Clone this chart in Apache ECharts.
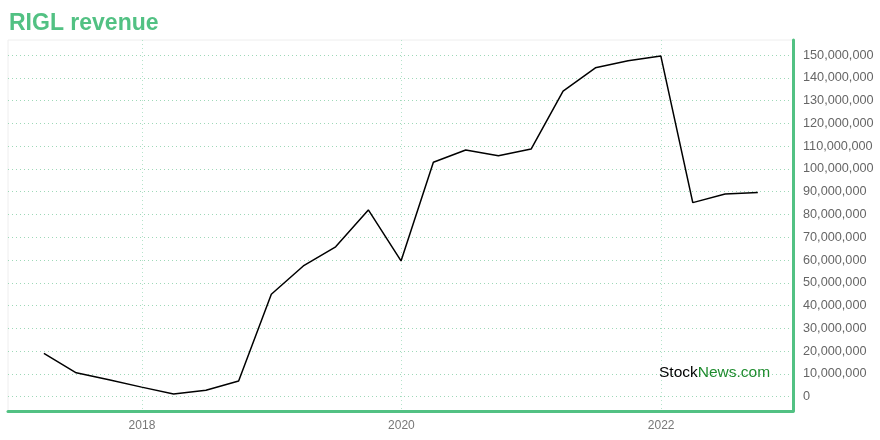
<!DOCTYPE html>
<html>
<head>
<meta charset="utf-8">
<script src="https://cdn.jsdelivr.net/npm/echarts@6/dist/echarts.min.js"></script>
<style>html,body{margin:0;padding:0;background:#fff;}#c{width:880px;height:440px;}</style>
</head>
<body>
<div id="c"></div>
<script>
const dates = ['2017-03-31','2017-06-30','2017-09-30','2017-12-31','2018-03-31','2018-06-30','2018-09-30','2018-12-31',
  '2019-03-31','2019-06-30','2019-09-30','2019-12-31','2020-03-31','2020-06-30','2020-09-30','2020-12-31',
  '2021-03-31','2021-06-30','2021-09-30','2021-12-31','2022-03-31','2022-06-30','2022-09-30'];
const revenue = [19.0e6,10.5e6,7.4e6,4.2e6,1.2e6,2.8e6,6.9e6,45.0e6,
  57.4e6,65.8e6,82.0e6,59.6e6,102.9e6,108.3e6,105.8e6,108.7e6,
  134.2e6,144.4e6,147.5e6,149.6e6,85.2e6,89.0e6,89.6e6];
const yTicks = [0,10e6,20e6,30e6,40e6,50e6,60e6,70e6,80e6,90e6,100e6,110e6,120e6,130e6,140e6,150e6];
const xTickYears = ['2018-01-01','2020-01-01','2022-01-01'];

const ts = d => +new Date(d + 'T00:00:00Z');
const chart = echarts.init(document.getElementById('c'));
const xTicks = xTickYears.map(ts);
chart.setOption({
  animation: false,
  backgroundColor: '#fff',
  title: {
    text: 'RIGL revenue', left: 4, top: 7,
    textStyle: { color: '#52c183', fontSize: 23, fontWeight: 'bold', fontFamily: 'Liberation Sans, Arial, sans-serif' }
  },
  grid: { left: 8, right: 87, top: 40, bottom: 29, show: true, borderColor: '#eeeeee', borderWidth: 1, containLabel: false },
  xAxis: {
    type: 'value',
    min: ts('2016-12-20'),
    max: ts('2023-01-07'),
    axisLine: { show: true, onZero: false, lineStyle: { color: '#52c183', width: 3 } },
    axisTick: { show: false, customValues: xTicks },
    axisLabel: {
      customValues: xTicks, color: '#777', fontSize: 12, margin: 9,
      fontFamily: 'Liberation Sans, Arial, sans-serif',
      formatter: v => String(new Date(v).getUTCFullYear())
    },
    splitLine: { show: true, lineStyle: { color: '#b5e4cb', type: [1, 3], width: 1 } }
  },
  yAxis: {
    type: 'value', position: 'right',
    min: -6.28e6, max: 156.6e6,
    axisLine: { show: true, lineStyle: { color: '#52c183', width: 3 } },
    axisTick: { show: false, customValues: yTicks },
    axisLabel: {
      customValues: yTicks, color: '#666', fontSize: 12.7, margin: 10,
      fontFamily: 'Liberation Sans, Arial, sans-serif',
      formatter: v => Math.round(v).toLocaleString('en-US')
    },
    splitLine: { show: true, lineStyle: { color: '#9ed8b8', type: [1, 3], width: 1 } }
  },
  series: [{
    type: 'line',
    data: dates.map((d, i) => [ts(d), revenue[i]]),
    showSymbol: false, symbol: 'none',
    lineStyle: { color: '#000', width: 1.5 },
    z: 5
  }],
  graphic: [{
    type: 'text', left: 659, top: 365, z: 10,
    style: {
      text: '{a|Stock}{b|News.com}',
      rich: {
        a: { fill: '#000', fontSize: 15.5, fontFamily: 'Liberation Sans, Arial, sans-serif' },
        b: { fill: '#1e8c2e', fontSize: 15.5, fontFamily: 'Liberation Sans, Arial, sans-serif' }
      }
    }
  }]
});
</script>
</body>
</html>
